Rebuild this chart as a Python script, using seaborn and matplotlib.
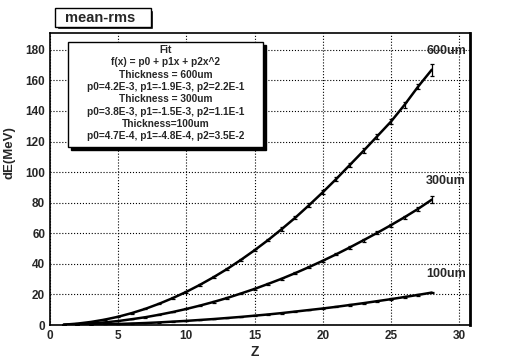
import numpy as np
import pandas as pd
import seaborn as sns
import matplotlib.pyplot as plt
from matplotlib.ticker import MultipleLocator

# Z of the ions
z = list(range(1, 29))

# mean energy loss in MeV for each thickness
de_600 = [0.2, 0.9, 2.0, 3.5, 5.4, 7.8, 10.6, 13.9, 17.6, 21.7, 26.3, 31.3, 36.7, 42.6,
          48.9, 55.6, 62.8, 70.3, 78.4, 86.8, 95.6, 104.8, 114.0, 123.5, 133.0, 144.0, 156.0, 167.0]
de_300 = [0.1, 0.4, 1.0, 1.7, 2.6, 3.8, 5.1, 6.7, 8.5, 10.5, 12.7, 15.1, 17.7, 20.6,
          23.6, 26.9, 30.3, 34.0, 37.9, 42.0, 46.3, 50.8, 55.5, 60.3, 65.3, 70.5, 76.0, 82.0]
de_100 = [0.03, 0.1, 0.25, 0.43, 0.68, 0.97, 1.3, 1.7, 2.2, 2.7, 3.3, 3.9, 4.6, 5.3,
          6.1, 6.9, 7.8, 8.8, 9.8, 10.8, 11.9, 13.1, 14.3, 15.6, 16.9, 18.3, 19.7, 21.2]

# rms
err_600 = [0.1, 0.1, 0.2, 0.2, 0.3, 0.3, 0.4, 0.4, 0.5, 0.5, 0.6, 0.6, 0.7, 0.8,
           0.8, 0.9, 1.0, 1.0, 1.1, 1.2, 1.3, 1.4, 1.5, 1.6, 1.7, 1.8, 1.9, 4.0]
err_300 = [0.05, 0.1, 0.1, 0.1, 0.2, 0.2, 0.2, 0.3, 0.3, 0.3, 0.4, 0.4, 0.5, 0.5,
           0.5, 0.6, 0.6, 0.7, 0.7, 0.8, 0.8, 0.9, 0.9, 1.0, 1.0, 1.1, 1.2, 2.2]
err_100 = [0.02, 0.03, 0.05, 0.05, 0.08, 0.1, 0.1, 0.1, 0.15, 0.15, 0.2, 0.2, 0.2, 0.2,
           0.25, 0.25, 0.3, 0.3, 0.3, 0.35, 0.35, 0.4, 0.4, 0.4, 0.45, 0.45, 0.5, 0.5]

thickness = ['600um', '300um', '100um']

fit_lines = ['Fit',
             'f(x) = p0 + p1x + p2x^2',
             'Thickness = 600um',
             'p0=4.2E-3, p1=-1.9E-3, p2=2.2E-1',
             'Thickness = 300um',
             'p0=3.8E-3, p1=-1.5E-3, p2=1.1E-1',
             'Thickness=100um',
             'p0=4.7E-4, p1=-4.8E-4, p2=3.5E-2']

df = pd.DataFrame({
    'Z': z * 3,
    'dE': de_600 + de_300 + de_100,
    'err': err_600 + err_300 + err_100,
    'thickness': [t for t in thickness for _ in z],
})

sns.set_style('white')
plt.rcParams['font.family'] = ['Liberation Sans', 'DejaVu Sans']
plt.rcParams['font.weight'] = 'bold'

fig = plt.figure(figsize=(5.17, 3.63), dpi=100)
ax = fig.add_axes([50 / 517, 1 - 325 / 363, 420 / 517, 292 / 363])

sns.lineplot(data=df, x='Z', y='dE', hue='thickness', palette=['black'] * 3,
             linewidth=1.8, legend=False, ax=ax)
for t in thickness:
    d = df[df['thickness'] == t]
    ax.errorbar(d['Z'], d['dE'], yerr=d['err'], fmt='none', ecolor='black',
                elinewidth=0.9, capsize=1.5, capthick=0.9)
    last = d.iloc[-1]
    ax.annotate(t, (last['Z'], last['dE']), xytext=(-4, 9), textcoords='offset points',
                fontsize=9, fontweight='bold', ha='left', va='bottom')

ax.set_xlim(0, 30.8)
ax.set_ylim(0, 191)
ax.xaxis.set_major_locator(MultipleLocator(5))
ax.xaxis.set_minor_locator(MultipleLocator(1))
ax.yaxis.set_major_locator(MultipleLocator(20))
ax.yaxis.set_minor_locator(MultipleLocator(4))
ax.tick_params(axis='both', which='both', direction='in', labelsize=8.5)
ax.tick_params(which='major', length=7, width=1)
ax.tick_params(which='minor', length=3.5, width=0.8)
for lab in ax.get_xticklabels() + ax.get_yticklabels():
    lab.set_fontweight('bold')
ax.grid(True, which='major', linestyle=':', color='black', linewidth=0.8)
for s in ax.spines.values():
    s.set_color('black')
    s.set_linewidth(1.2)
ax.spines['right'].set_linewidth(2)

ax.set_xlabel('Z', fontsize=10, fontweight='bold')
ax.set_ylabel('dE(MeV)', fontsize=9.5, fontweight='bold')
ax.xaxis.set_label_coords(0.487, -0.07)
ax.yaxis.set_label_coords(-0.083, 0.59)

# fit box with shadow
bx0, by0, bx1, by1 = 68, 42, 263, 147
fig.patches.append(plt.Rectangle(((bx0 + 3) / 517, 1 - (by1 + 3) / 363), (bx1 - bx0) / 517,
                                 (by1 - by0) / 363, transform=fig.transFigure,
                                 facecolor='black', edgecolor='black', zorder=5))
fig.patches.append(plt.Rectangle((bx0 / 517, 1 - by1 / 363), (bx1 - bx0) / 517,
                                 (by1 - by0) / 363, transform=fig.transFigure,
                                 facecolor='white', edgecolor='black', linewidth=1, zorder=6))
for i, line in enumerate(fit_lines):
    fig.text((bx0 + bx1) / 2 / 517, 1 - (50 + i * 12.3) / 363, line, ha='center', va='center',
             fontsize=7.3, fontweight='bold', zorder=7)

# title box
tx0, ty0, tx1, ty1 = 55, 8, 151, 27
fig.patches.append(plt.Rectangle(((tx0 + 2) / 517, 1 - (ty1 + 2) / 363), (tx1 - tx0) / 517,
                                 (ty1 - ty0) / 363, transform=fig.transFigure,
                                 facecolor='black', zorder=5))
fig.patches.append(plt.Rectangle((tx0 / 517, 1 - ty1 / 363), (tx1 - tx0) / 517,
                                 (ty1 - ty0) / 363, transform=fig.transFigure,
                                 facecolor='white', edgecolor='black', linewidth=1, zorder=6))
fig.text((tx0 + 10) / 517, 1 - (ty0 + ty1) / 2 / 363, 'mean-rms', ha='left', va='center',
         fontsize=10.5, fontweight='bold', zorder=7)

fig.savefig('out.png', dpi=100)
